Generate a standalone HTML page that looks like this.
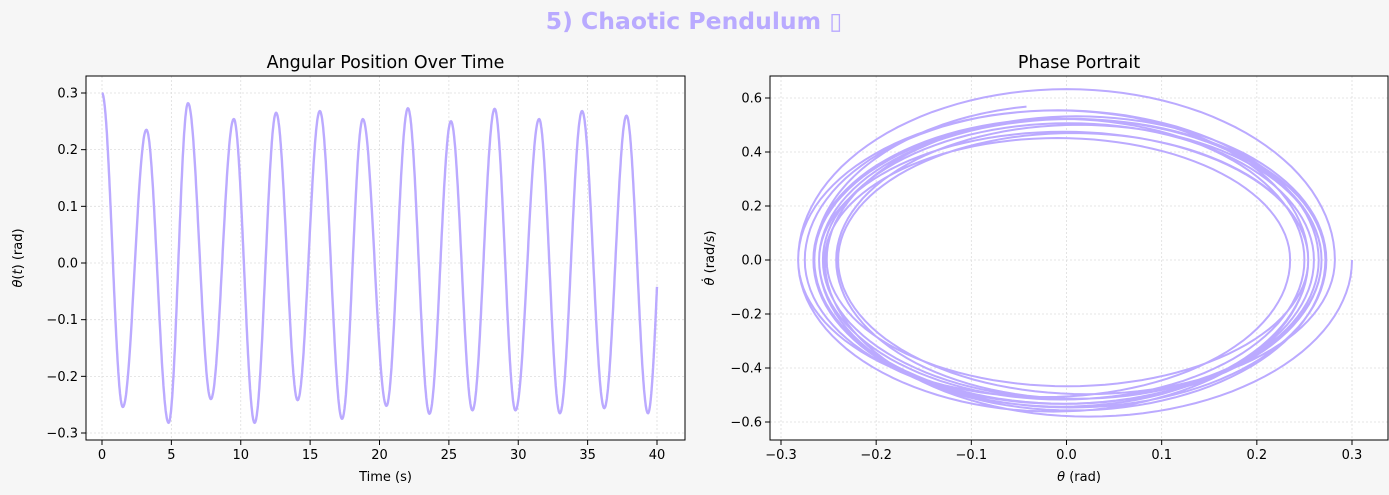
<!DOCTYPE html>
<html><head><meta charset="utf-8"><style>
html,body{margin:0;padding:0;background:#f6f6f6;}
svg{display:block;font-family:"DejaVu Sans","Liberation Sans",sans-serif;}
</style></head><body>
<svg id="c" width="1389" height="495">
<rect width="1389" height="495" fill="#f6f6f6"/>
<text x="694" y="29" text-anchor="middle" font-size="23.5" font-weight="bold" fill="#b9aaff">5) Chaotic Pendulum ▯</text>
</svg>
<script>
// extremes of theta(t): times and values
const extTimes = [0, 1.5, 3.2, 4.8, 6.2, 7.85, 9.5, 11.0, 12.55, 14.1, 15.7, 17.3, 18.8, 20.5, 22.05, 23.6, 25.15, 26.7, 28.3, 29.8, 31.5, 33.0, 34.6, 36.2, 37.8, 39.35];
const extValues = [0.3, -0.254, 0.235, -0.282, 0.282, -0.24, 0.254, -0.282, 0.265, -0.242, 0.268, -0.275, 0.254, -0.252, 0.273, -0.266, 0.25, -0.26, 0.272, -0.26, 0.254, -0.265, 0.268, -0.256, 0.26, -0.265];
const endTime = 40, endValue = -0.042;
const leftXTicks = [0,5,10,15,20,25,30,35,40];
const leftYTicks = [-0.3,-0.2,-0.1,0.0,0.1,0.2,0.3];
const rightXTicks = [-0.3,-0.2,-0.1,0.0,0.1,0.2,0.3];
const rightYTicks = [-0.6,-0.4,-0.2,0.0,0.2,0.4,0.6];

const NS="http://www.w3.org/2000/svg";
const svg=document.getElementById('c');
function mk(tag,attrs,parent){const e=document.createElementNS(NS,tag);for(const k in attrs)e.setAttribute(k,attrs[k]);(parent||svg).appendChild(e);return e;}
const COL="#bbaaff";

const ts=[],th=[],om=[];
const segs=[];
for(let i=0;i<extTimes.length;i++){
  const t0=extTimes[i],v0=extValues[i];
  if(i+1<extTimes.length){segs.push([t0,extTimes[i+1],v0,extValues[i+1],1]);}
  else{
    const dt=extTimes[i]-extTimes[i-1];
    const amp=v0; // move from v0 toward -v0
    const u=Math.acos(Math.max(-1,Math.min(1,endValue/amp)))/Math.PI;
    segs.push([t0,t0+(endTime-t0)/u,v0,-v0,u]);
  }
}
segs.forEach(s=>{
  const [t0,t1,v0,v1,frac]=s;const dt=t1-t0;const mid=(v0+v1)/2,amp=(v0-v1)/2;
  const n=60;
  for(let k=0;k<=n;k++){const u=k/n*frac;const t=t0+u*dt;
    ts.push(t);th.push(mid+amp*Math.cos(Math.PI*u));om.push(-amp*Math.PI/dt*Math.sin(Math.PI*u));}
});

function axes(cfg){
  const {x0,x1,y0,y1,xmin,xmax,ymin,ymax,xt,yt,xfmt,yfmt,title,xl,yl,name}=cfg;
  const g=mk('g',{});
  
  
  const X=v=>x0+(v-xmin)/(xmax-xmin)*(x1-x0);
  const Y=v=>y1-(v-ymin)/(ymax-ymin)*(y1-y0);
  mk('rect',{x:x0,y:y0,width:x1-x0,height:y1-y0,fill:'#fff'},g);
  xt.forEach(v=>{const x=X(v);
    const l=mk('line',{x1:x,x2:x,y1:y0,y2:y1,stroke:'#ddd','stroke-dasharray':'2,2','stroke-width':0.8},g);
    
    mk('line',{x1:x,x2:x,y1:y1,y2:y1+5,stroke:'#000'},g);
    const t=mk('text',{x:x,y:y1+19,'text-anchor':'middle','font-size':13,fill:'#000'},g);t.textContent=xfmt(v);
    });
  yt.forEach(v=>{const y=Y(v);
    const l=mk('line',{x1:x0,x2:x1,y1:y,y2:y,stroke:'#ddd','stroke-dasharray':'2,2','stroke-width':0.8},g);
    
    mk('line',{x1:x0-5,x2:x0,y1:y,y2:y,stroke:'#000'},g);
    const t=mk('text',{x:x0-8,y:y+4.5,'text-anchor':'end','font-size':13,fill:'#000'},g);t.textContent=yfmt(v);
    });
  const tt=mk('text',{x:(x0+x1)/2,y:y0-8,'text-anchor':'middle','font-size':17.5,fill:'#000'},g);tt.textContent=title;
  
  const xa=mk('text',{x:(x0+x1)/2,y:y1+41,'text-anchor':'middle','font-size':13,fill:'#000'},g);xa.innerHTML=xl;
  
  const ya=mk('text',{x:0,y:0,'text-anchor':'middle','font-size':13,fill:'#000',transform:`translate(${cfg.ylx},${(y0+y1)/2}) rotate(-90)`},g);ya.innerHTML=yl;
  
  return {g,X,Y,frame:()=>mk('rect',{x:x0,y:y0,width:x1-x0,height:y1-y0,fill:'none',stroke:'#000','stroke-width':1},g)};
}
const f1=v=>(v<-1e-9?'\u2212':'')+Math.abs(v).toFixed(1);
const A=axes({name:'angular-position-axes',x0:86,x1:685,y0:76,y1:440,xmin:(86-102)/13.875,xmax:(685-102)/13.875,
  ymin:-(440-263)/566.7,ymax:(263-76)/566.7,xt:leftXTicks,yt:leftYTicks,xfmt:v=>String(v),yfmt:f1,
  title:'Angular Position Over Time',xl:'Time (s)',yl:'<tspan font-style="italic">θ</tspan>(<tspan font-style="italic">t</tspan>) (rad)',ylx:22});
let d='';ts.forEach((t,i)=>{d+=(i?'L':'M')+A.X(t).toFixed(1)+','+A.Y(th[i]).toFixed(1);});
const p1=mk('path',{d,fill:'none',stroke:COL,'stroke-width':2.4},A.g);

A.frame();

const B=axes({name:'phase-portrait-axes',x0:770,x1:1388,y0:76,y1:440,xmin:-0.3-(781-770)/951.7,xmax:0.3+(1388-1352)/951.7,
  ymin:-(440-260)/270,ymax:(260-76)/270,xt:rightXTicks,yt:rightYTicks,xfmt:f1,yfmt:f1,
  title:'Phase Portrait',xl:'<tspan font-style="italic">θ</tspan> (rad)',yl:'<tspan font-style="italic">θ̇</tspan> (rad/s)',ylx:714});
d='';ts.forEach((t,i)=>{d+=(i?'L':'M')+B.X(th[i]).toFixed(1)+','+B.Y(om[i]).toFixed(1);});
const p2=mk('path',{d,fill:'none',stroke:COL,'stroke-width':2},B.g);

B.frame();
</script>
</body></html>
